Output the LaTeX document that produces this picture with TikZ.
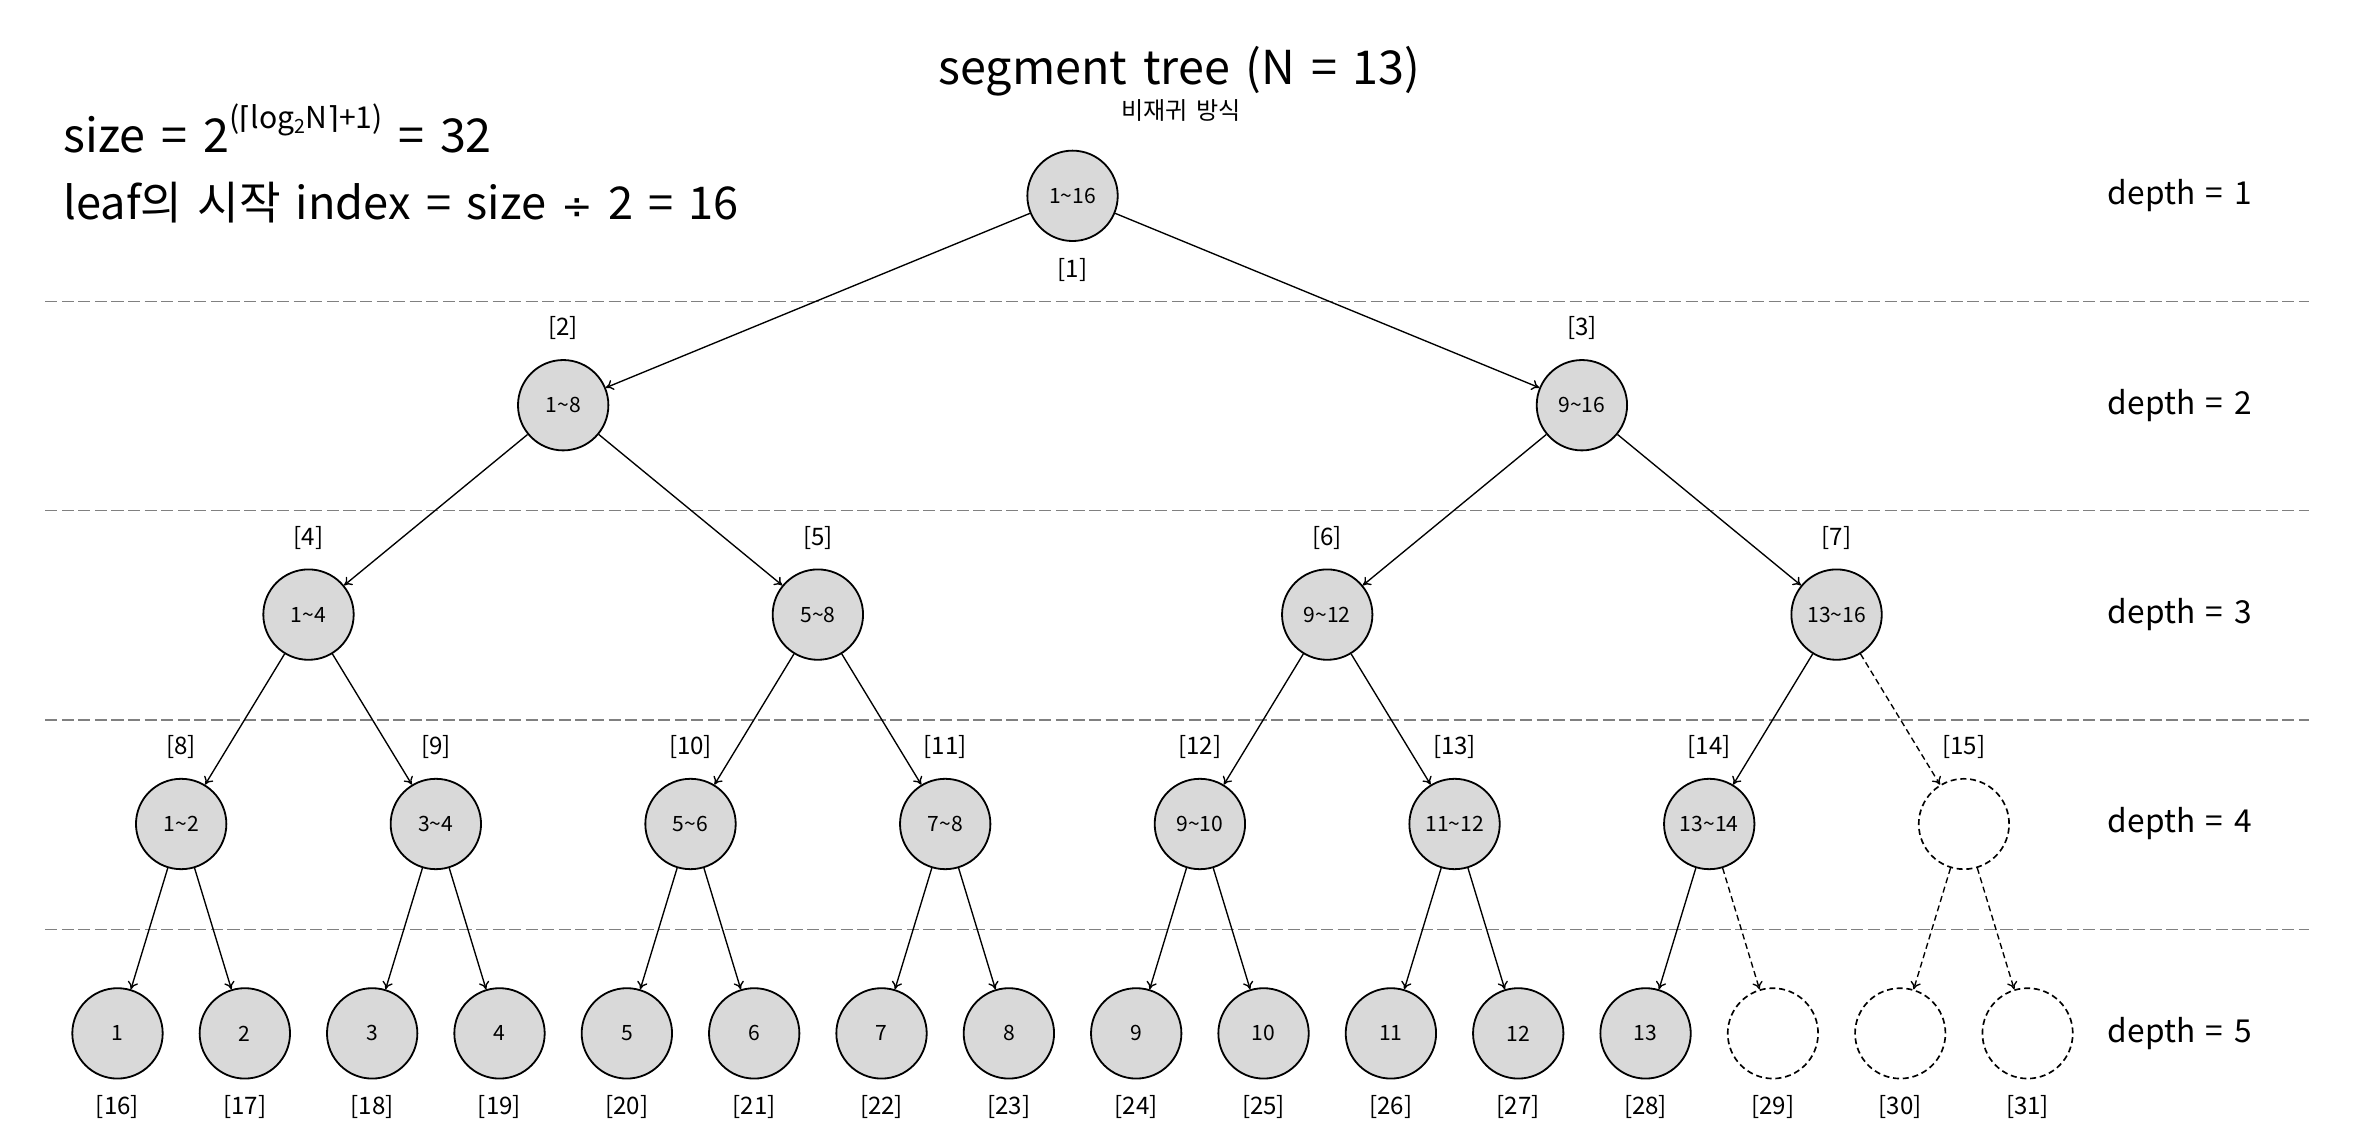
\documentclass[tikz,border=0pt]{standalone}
\usepackage{fontspec}
\setmainfont{Noto Sans CJK KR}[WordSpace=1.5]
\newfontfamily\djv{DejaVu Sans}
\usetikzlibrary{arrows.meta}
\definecolor{nodegray}{HTML}{D9D9D9}
\definecolor{sepgray}{HTML}{808080}
\begin{document}
\begin{tikzpicture}[x=1pt,y=-1pt,
  tn/.style={circle,draw,line width=1.2pt,fill=nodegray,minimum size=60pt,inner sep=0pt,font=\fontsize{14}{14}\selectfont},
  tnd/.style={circle,draw,line width=1.1pt,dash pattern=on 4pt off 2.5pt,minimum size=60pt,inner sep=0pt},
  idx/.style={font=\fontsize{16}{16}\selectfont,inner sep=0pt},
  edge/.style={line width=0.9pt,-{To[length=5pt,width=7pt]}},
  edged/.style={edge,dash pattern=on 4pt off 2.5pt},
  sep/.style={sepgray,line width=1pt,dash pattern=on 8pt off 3pt},
  dlabel/.style={font=\fontsize{21}{21}\selectfont,inner sep=0pt},
  big/.style={font=\fontsize{31}{31}\selectfont,inner sep=0pt}]
\fill[white] (0,0) rectangle (1568,762);
\useasboundingbox (0,0) rectangle (1568,762);

% title
\node[font=\fontsize{31}{31}\selectfont,inner sep=0pt,anchor=base] (title) at (783,56) {segment tree (N = 13)};
\node[font=\fontsize{16}{16}\selectfont,inner sep=0pt,anchor=base] (subtitle) at (784,79) {비재귀 방식};

% formulas
\node[big,anchor=base west] (f1) at (42,101) {size = 2\raisebox{0.5em}{\fontsize{20}{20}\selectfont ({\djv ⌈}log\raisebox{-0.15em}{\fontsize{13}{13}\selectfont 2}N{\djv ⌉}+1)} = 32};
\node[font=\fontsize{30}{30}\selectfont,inner sep=0pt,anchor=base west] (f2) at (42,146) {leaf의 시작 index = size {\djv\fontsize{25}{25}\selectfont ÷} 2 = 16};

% separators
\foreach \yy [count=\k] in {200,339,478,617}
  \draw[sep] (30,\yy) coordinate (sl\k) -- (1533,\yy) coordinate (sr\k);

% depth labels
\foreach \d in {1,...,5}{
  \pgfmathsetmacro\yy{130+(\d-1)*139}
  \node[dlabel] (depth\d) at (1447,\yy) {depth = \d};
}

% tree nodes
\foreach \d in {1,...,5}{
  \pgfmathtruncatemacro\lo{2^(\d-1)}
  \pgfmathtruncatemacro\hi{2^\d-1}
  \pgfmathtruncatemacro\sp{2^(5-\d)}
  \foreach \i in {\lo,...,\hi}{
    \pgfmathsetmacro\xx{78+84.533*((\i-\lo)*\sp+(\sp-1)/2)}
    \pgfmathsetmacro\yy{130+(\d-1)*139}
    \pgfmathtruncatemacro\a{(\i-\lo)*\sp+1}
    \pgfmathtruncatemacro\b{(\i-\lo+1)*\sp}
    \ifnum\i=15
      \node[tnd] (n\i) at (\xx,\yy) {};
    \else\ifnum\i>28
      \node[tnd] (n\i) at (\xx,\yy) {};
    \else\ifnum\d=5
      \node[tn] (n\i) at (\xx,\yy) {\a};
    \else
      \node[tn] (n\i) at (\xx,\yy) {\a\textasciitilde\b};
    \fi\fi\fi
    \ifnum\d=1
      \node[idx] (l\i) at (\xx,\yy+49) {[\i]};
    \else\ifnum\d=5
      \node[idx] (l\i) at (\xx,\yy+49) {[\i]};
    \else
      \node[idx] (l\i) at (\xx,\yy-51) {[\i]};
    \fi\fi
  }
}

% edges
\foreach \c in {2,...,31}{
  \pgfmathtruncatemacro\p{int(\c/2)}
  \ifnum\c=15
    \draw[edged] (n\p) -- (n\c);
  \else\ifnum\c>28
    \draw[edged] (n\p) -- (n\c);
  \else
    \draw[edge] (n\p) -- (n\c);
  \fi\fi
}
\end{tikzpicture}
\end{document}
